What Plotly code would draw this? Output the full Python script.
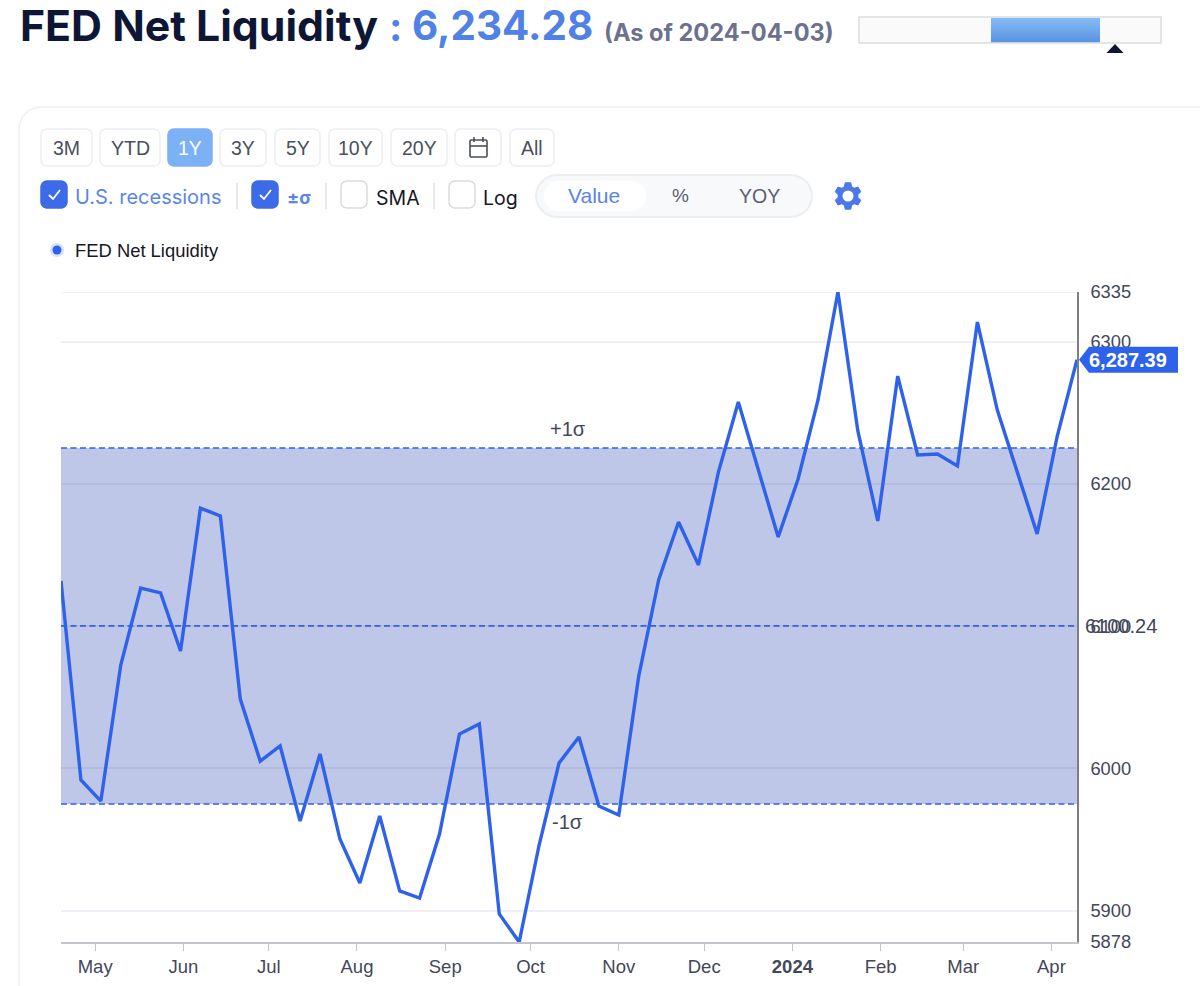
import math
import plotly.graph_objects as go

# weekly readings, FED Net Liquidity
START_DATE = "2023-04-19"
LAST_DATE = "2024-04-10"
WEEKS = [
    "2023-04-19", "2023-04-26", "2023-05-03", "2023-05-10", "2023-05-17", "2023-05-24", "2023-05-31",
    "2023-06-07", "2023-06-14", "2023-06-21", "2023-06-28", "2023-07-05", "2023-07-12", "2023-07-19",
    "2023-07-26", "2023-08-02", "2023-08-09", "2023-08-16", "2023-08-23", "2023-08-30", "2023-09-06",
    "2023-09-13", "2023-09-20", "2023-09-27", "2023-10-04", "2023-10-11", "2023-10-18", "2023-10-25",
    "2023-11-01", "2023-11-08", "2023-11-15", "2023-11-22", "2023-11-29", "2023-12-06", "2023-12-13",
    "2023-12-20", "2023-12-27", "2024-01-03", "2024-01-10", "2024-01-17", "2024-01-24", "2024-01-31",
    "2024-02-07", "2024-02-14", "2024-02-21", "2024-02-28", "2024-03-06", "2024-03-13", "2024-03-20",
    "2024-03-27", "2024-04-03", "2024-04-10",
]
VALUES = [
    6131.8, 5991.9, 5977.1, 6072.7, 6126.9, 6123.4, 6082.6, 6183.1, 6177.5, 6048.8, 6005.2, 6015.8, 5963.1,
    6010.2, 5950.4, 5919.5, 5966.6, 5913.9, 5908.9, 5953.9, 6024.2, 6031.3, 5897.7, 5878.0, 5946.2, 6003.8,
    6022.1, 5973.6, 5967.3, 6065.0, 6132.5, 6173.3, 6143.1, 6208.4, 6257.7, 6209.9, 6162.7, 6203.5, 6259.1,
    6335.0, 6237.3, 6174.0, 6275.9, 6220.4, 6221.1, 6212.7, 6313.9, 6252.0, 6208.4, 6164.9, 6233.1, 6287.39,
]
MEAN = 6100.24
SIGMA_UP = 6225.3
SIGMA_DOWN = 5975.0
SIGMA_LABEL_DATE = "2023-10-14"
Y_TICKS = [5878, 5900, 6000, 6100, 6200, 6300, 6335]
MONTH_TICKS = ["2023-05-01", "2023-06-01", "2023-07-01", "2023-08-01", "2023-09-01", "2023-10-01",
               "2023-11-01", "2023-12-01", "2024-01-01", "2024-02-01", "2024-03-01", "2024-04-01"]
MONTH_LABELS = ["May", "Jun", "Jul", "Aug", "Sep", "Oct", "Nov", "Dec", "<b>2024</b>", "Feb", "Mar", "Apr"]
RANGE_BUTTONS = ["3M", "YTD", "1Y", "3Y", "5Y", "10Y", "20Y", "", "All"]

FONT = "Inter, 'Noto Sans', sans-serif"
ARIAL = "'Liberation Sans', Arial, sans-serif"
BLUE = "#2f62ea"
NAVY = "#0e1636"
GREY_TXT = "#43475a"

# plot box in page pixels, the page furniture is placed relative to it
L, R, T, B = 61, 1077, 292, 942


def xp(px):
    return (px - L) / (R - L)


def yp(py):
    return (B - py) / (B - T)


def poly(pts, close=True):
    s = "M " + " L ".join(f"{xp(x):.5f},{yp(y):.5f}" for x, y in pts)
    return s + (" Z" if close else "")


def round_rect(x0, y0, x1, y1, r):
    n = 6
    pts = []
    for cx, cy, a0 in [(x1 - r, y0 + r, -90), (x1 - r, y1 - r, 0), (x0 + r, y1 - r, 90), (x0 + r, y0 + r, 180)]:
        for i in range(n + 1):
            a = math.radians(a0 + 90 * i / n)
            pts.append((cx + r * math.cos(a), cy + r * math.sin(a)))
    return poly(pts)


shapes = []
annots = []


def box(x0, y0, x1, y1, r, fill="rgba(0,0,0,0)", line="#eceef2", w=1.5):
    shapes.append(dict(type="path", path=round_rect(x0, y0, x1, y1, r), xref="paper", yref="paper",
                       fillcolor=fill, line=dict(color=line, width=w), layer="above"))


def txt(x, y, s, size, color, anchor="left", family=FONT):
    annots.append(dict(x=xp(x), y=yp(y), xref="paper", yref="paper", text=s, showarrow=False, xanchor=anchor,
                       yanchor="middle", borderpad=0, font=dict(family=family, size=size, color=color)))


def stroke(pts, color, w):
    shapes.append(dict(type="path", path=poly(pts, close=False), xref="paper", yref="paper",
                       line=dict(color=color, width=w), layer="above"))


# header
txt(19, 26, "<b>FED Net Liquidity</b>", 42.8, NAVY)
txt(388, 27, "<b>:</b>", 40, "#4f82e4")
txt(411, 26, "<b>6,234.28</b>", 40.4, "#4f82e4")
txt(603, 32, "<b>(As of 2024-04-03)</b>", 23.6, "#6c7190")

# range gauge with its marker
shapes.append(dict(type="rect", xref="paper", yref="paper", x0=xp(859), x1=xp(1161), y0=yp(43), y1=yp(17),
                   fillcolor="#fafafa", line=dict(color="#dcdde2", width=1.5), layer="above"))
for i in range(24):
    t = i / 23
    c = (int(133 - 43 * t), int(187 - 39 * t), int(245 - 19 * t))
    shapes.append(dict(type="rect", xref="paper", yref="paper", x0=xp(991), x1=xp(1100),
                       y0=yp(18 + i + 1.2), y1=yp(18 + i), fillcolor=f"rgb{c}", line=dict(width=0), layer="above"))
shapes.append(dict(type="path", path=poly([(1115, 44), (1123.5, 53), (1106.5, 53)]), xref="paper", yref="paper",
                   fillcolor=NAVY, line=dict(width=0), layer="above"))

# card outline runs off the page to the right and bottom
n = 8
card = [(19, 1000)]
for i in range(n + 1):
    a = math.radians(180 + 90 * i / n)
    card.append((41 + 22 * math.cos(a), 129 + 22 * math.sin(a)))
card.append((1210, 107))
stroke(card, "#eef0f4", 1.5)

# range buttons
button_x = [(41, 92), (100, 160), (168, 212), (220, 266), (275, 320), (329, 382), (391, 447), (455, 501), (510, 554)]
for (x0, x1), lab in zip(button_x, RANGE_BUTTONS):
    active = lab == "1Y"
    box(x0, 129, x1, 166, 6, fill="#7db1f5" if active else "#ffffff", line="#7db1f5" if active else "#eceef2")
    if lab:
        txt((x0 + x1) / 2, 148.5, lab, 19.5, "#ffffff" if active else "#4b4f5e", anchor="center", family=ARIAL)
# calendar icon
box(470, 140, 487, 157, 1.5, line="#4b4f5e", w=1.6)
stroke([(470, 146), (487, 146)], "#4b4f5e", 1.6)
stroke([(474, 137), (474, 142)], "#4b4f5e", 1.6)
stroke([(483, 137), (483, 142)], "#4b4f5e", 1.6)

# option row
for x0, on in [(41, True), (252, True), (341, False), (449, False)]:
    box(x0, 181, x0 + 26, 208, 6, fill="#3d6be8" if on else "#ffffff", line="#3d6be8" if on else "#d9dbe1")
    if on:
        stroke([(x0 + 8, 195), (x0 + 12, 199), (x0 + 19, 190)], "#ffffff", 1.8)
for x in (237, 326, 434):
    stroke([(x, 183), (x, 209)], "#d9dbe1", 1.2)
txt(74, 197, "U.S. recessions", 20, "#5a85ea", family=FONT)
txt(286, 197.5, "<b>±σ</b>", 18, "#5a85ea", family=FONT)
txt(375, 198, "SMA", 19.5, "#15171f", family=FONT)
txt(482, 198, "Log", 19.5, "#15171f", family=FONT)

box(536, 175, 812, 217, 21, fill="#f8f9fb", line="#eceef2", w=2)
box(544, 181, 646, 211, 15, fill="#ffffff", line="#ffffff", w=0.5)
txt(594, 196, "Value", 21, "#5a85ea", anchor="center", family=ARIAL)
txt(680, 196, "%", 19, "#5b5f70", anchor="center", family=ARIAL)
txt(759, 196, "YOY", 19.5, "#5b5f70", anchor="center", family=ARIAL)

# settings gear
gear = []
for k in range(6):
    c = k * 60 - 90
    for da, rad in [(-21, 10.0), (-12, 13.5), (12, 13.5), (21, 10.0)]:
        a = math.radians(c + da)
        gear.append((848 + rad * math.cos(a), 196 + rad * math.sin(a)))
shapes.append(dict(type="path", path=poly(gear), xref="paper", yref="paper", fillcolor="#4a78e8",
                   line=dict(color="#4a78e8", width=1), layer="above"))
shapes.append(dict(type="circle", xref="paper", yref="paper", x0=xp(842.5), x1=xp(853.5), y0=yp(201.5), y1=yp(190.5),
                   fillcolor="#ffffff", line=dict(width=0), layer="above"))

# legend
shapes.append(dict(type="circle", xref="paper", yref="paper", x0=xp(50), x1=xp(64), y0=yp(257), y1=yp(243),
                   fillcolor="#d5e0fa", line=dict(width=0), layer="above"))
shapes.append(dict(type="circle", xref="paper", yref="paper", x0=xp(52.5), x1=xp(61.5), y0=yp(254.5), y1=yp(245.5),
                   fillcolor=BLUE, line=dict(width=0), layer="above"))
txt(74, 250, "FED Net Liquidity", 18.4, "#15171f", family=ARIAL)

# plotly drops the grid line at the range edge, the reference keeps it
shapes.append(dict(type="line", xref="paper", yref="y", x0=0, x1=1, y0=Y_TICKS[-1], y1=Y_TICKS[-1],
                   line=dict(color="#eceef3", width=1.5), layer="below"))
# sigma band
shapes.append(dict(type="rect", xref="paper", yref="y", x0=0, x1=1, y0=SIGMA_DOWN, y1=SIGMA_UP,
                   fillcolor="rgba(126,143,207,0.5)", line=dict(width=0), layer="below"))
for level in (SIGMA_UP, MEAN, SIGMA_DOWN):
    shapes.append(dict(type="line", xref="paper", yref="y", x0=0, x1=1, y0=level, y1=level,
                       line=dict(color=BLUE, width=1.6, dash="6px,3.5px"), layer="below"))
annots.append(dict(x=SIGMA_LABEL_DATE, y=SIGMA_UP, yshift=19, text="+1σ", showarrow=False, xanchor="center",
                   font=dict(family=ARIAL, size=20, color=GREY_TXT)))
annots.append(dict(x=SIGMA_LABEL_DATE, y=SIGMA_DOWN, yshift=-18, text="-1σ", showarrow=False, xanchor="center",
                   font=dict(family=ARIAL, size=20, color=GREY_TXT)))
annots.append(dict(x=xp(1084), y=MEAN, xref="paper", yref="y", text=f"{MEAN:.2f}", showarrow=False, xanchor="left",
                   borderpad=0, font=dict(family=ARIAL, size=20, color=GREY_TXT)))

# last value flag
last_y = B - (VALUES[-1] - Y_TICKS[0]) / (Y_TICKS[-1] - Y_TICKS[0]) * (B - T)
shapes.append(dict(type="path", path=poly([(1079, last_y), (1089, last_y - 13), (1178, last_y - 13),
                                           (1178, last_y + 13), (1089, last_y + 13)]),
                   xref="paper", yref="paper", fillcolor=BLUE, line=dict(width=0), layer="above"))
annots.append(dict(x=xp(1128), y=VALUES[-1], xref="paper", yref="y", text=f"<b>{VALUES[-1]:,.2f}</b>", showarrow=False,
                   xanchor="center", font=dict(family=ARIAL, size=20, color="#ffffff")))

fig = go.Figure(go.Scatter(
    x=WEEKS, y=VALUES, mode="lines", cliponaxis=False, hoverinfo="skip",
    line=dict(color=BLUE, width=3.4, shape="linear"),
))
# automargin is on in the default template and would shift the plot box
fig.update_xaxes(
    type="date", range=[START_DATE, LAST_DATE], tickmode="array", tickvals=MONTH_TICKS, ticktext=MONTH_LABELS,
    automargin=False, showgrid=False, showline=True, linecolor="#c4c5ca", linewidth=1.5, ticks="outside", ticklen=7,
    tickcolor="#c4c5ca", tickfont=dict(family=ARIAL, size=18.5, color=GREY_TXT), zeroline=False,
)
# translucent grid so that it still reads faintly through the sigma band
fig.update_yaxes(
    side="right", range=[Y_TICKS[0], Y_TICKS[-1]], tickmode="array", tickvals=Y_TICKS,
    ticktext=[str(v) for v in Y_TICKS], automargin=False, showgrid=True, gridcolor="rgba(90,100,150,0.1)", gridwidth=1.5,
    showline=True, linecolor="#7c7e86", linewidth=1.5, ticks="", ticklabelstandoff=8,
    tickfont=dict(family=ARIAL, size=18.3, color=GREY_TXT), zeroline=False,
)
fig.update_layout(
    width=1200, height=986, showlegend=False, paper_bgcolor="#ffffff", plot_bgcolor="#ffffff",
    margin=dict(l=L, r=1200 - R, t=T, b=986 - B), shapes=shapes, annotations=annots,
)
# the page body has an 8px margin by default, the figure should sit flush
fig.write_html("out.html", config=dict(displayModeBar=False),
               post_script="document.body.style.margin='0';document.body.style.overflow='hidden';")
